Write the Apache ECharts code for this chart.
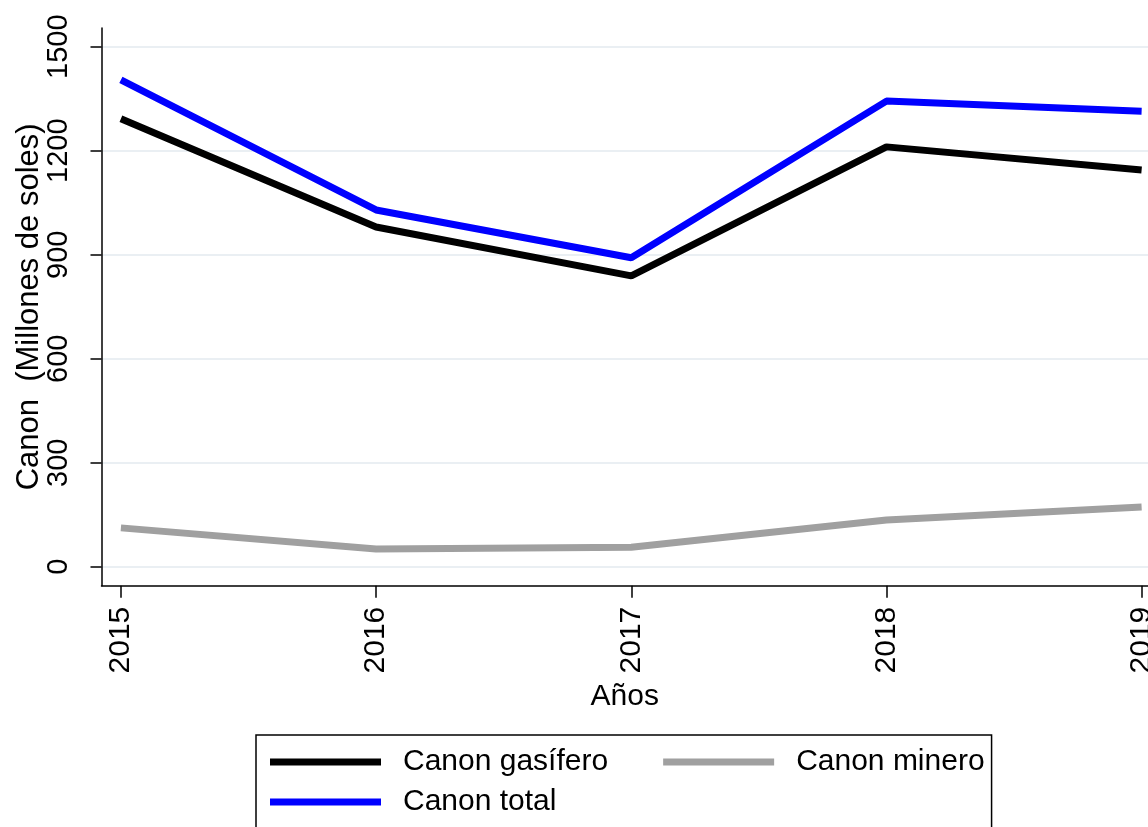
<!DOCTYPE html>
<html>
<head>
<meta charset="utf-8">
<script src="https://cdn.jsdelivr.net/npm/echarts@6/dist/echarts.min.js"></script>
<style>
  html, body { margin: 0; padding: 0; background: #fff; }
  #chart { width: 1148px; height: 827px; }
</style>
</head>
<body>
<div id="chart"></div>
<script>
const years = [2015, 2016, 2017, 2018, 2019];
const canonGas = [1292, 980, 839, 1211, 1144];
const canonMinero = [112, 51, 56, 135, 172];
const canonTotal = [1404, 1029, 891, 1343, 1314];
const yTicks = [0, 300, 600, 900, 1200, 1500];

const chart = echarts.init(document.getElementById('chart'), null, { renderer: 'canvas' });

const font = 'Liberation Sans, Arial, sans-serif';
const pairs = arr => years.map((y, i) => [y, arr[i]]);

const option = {
  animation: false,
  backgroundColor: '#fff',
  grid: { left: 101.5, right: 0, top: 28, bottom: 241.3, containLabel: false, outerBoundsMode: 'none' },
  xAxis: {
    type: 'value',
    min: 2014.924,
    max: 2019.025,
    name: 'Años',
    nameLocation: 'middle',
    nameGap: 66,
    nameTextStyle: { fontSize: 30, color: '#000', fontFamily: font },
    axisLine: { show: true, onZero: false, lineStyle: { color: '#000', width: 1.5 } },
    axisTick: { show: true, length: 12, customValues: years, lineStyle: { color: '#000', width: 1.5 } },
    axisLabel: {
      customValues: years,
      rotate: 90,
      margin: 21,
      fontSize: 30,
      color: '#000',
      fontFamily: font,
      formatter: v => String(v)
    },
    splitLine: { show: false }
  },
  yAxis: {
    type: 'value',
    min: -54.8,
    max: 1553.9,
    name: 'Canon  (Millones de soles)',
    nameLocation: 'middle',
    nameGap: 57,
    nameMoveOverlap: false,
    nameTextStyle: { fontSize: 31, color: '#000', fontFamily: font },
    axisLine: { show: true, onZero: false, lineStyle: { color: '#000', width: 1.5 } },
    axisTick: { show: true, length: 11, customValues: yTicks, lineStyle: { color: '#000', width: 1.5 } },
    axisLabel: {
      customValues: yTicks,
      rotate: 90,
      margin: 28,
      fontSize: 29,
      color: '#000',
      fontFamily: font,
      formatter: v => String(v)
    },
    splitLine: { show: true, lineStyle: { color: '#eaeff3', width: 2 } }
  },
  legend: [
    {
      data: ['Canon gasífero', 'Canon minero'],
      left: 256,
      top: 735,
      orient: 'horizontal',
      padding: [12, 7, 60, 14],
      borderColor: '#000',
      borderWidth: 1.5,
      itemGap: 55,
      icon: 'rect',
      itemWidth: 111,
      itemHeight: 7,
      textStyle: { fontSize: 30, color: '#000', fontFamily: font, padding: [0, 0, 0, 17] }
    },
    {
      data: ['Canon total'],
      left: 256,
      top: 775,
      orient: 'horizontal',
      padding: [12, 7, 12, 14],
      icon: 'rect',
      itemWidth: 111,
      itemHeight: 7,
      textStyle: { fontSize: 30, color: '#000', fontFamily: font, padding: [0, 0, 0, 17] }
    }
  ],
  series: [
    {
      name: 'Canon gasífero',
      type: 'line',
      data: pairs(canonGas),
      showSymbol: false,
      symbol: 'none',
      lineStyle: { color: '#000000', width: 7 },
      itemStyle: { color: '#000000' }
    },
    {
      name: 'Canon minero',
      type: 'line',
      data: pairs(canonMinero),
      showSymbol: false,
      symbol: 'none',
      lineStyle: { color: '#a0a0a0', width: 7 },
      itemStyle: { color: '#a0a0a0' }
    },
    {
      name: 'Canon total',
      type: 'line',
      data: pairs(canonTotal),
      showSymbol: false,
      symbol: 'none',
      lineStyle: { color: '#0000ff', width: 7 },
      itemStyle: { color: '#0000ff' }
    }
  ]
};

chart.setOption(option);
</script>
</body>
</html>
